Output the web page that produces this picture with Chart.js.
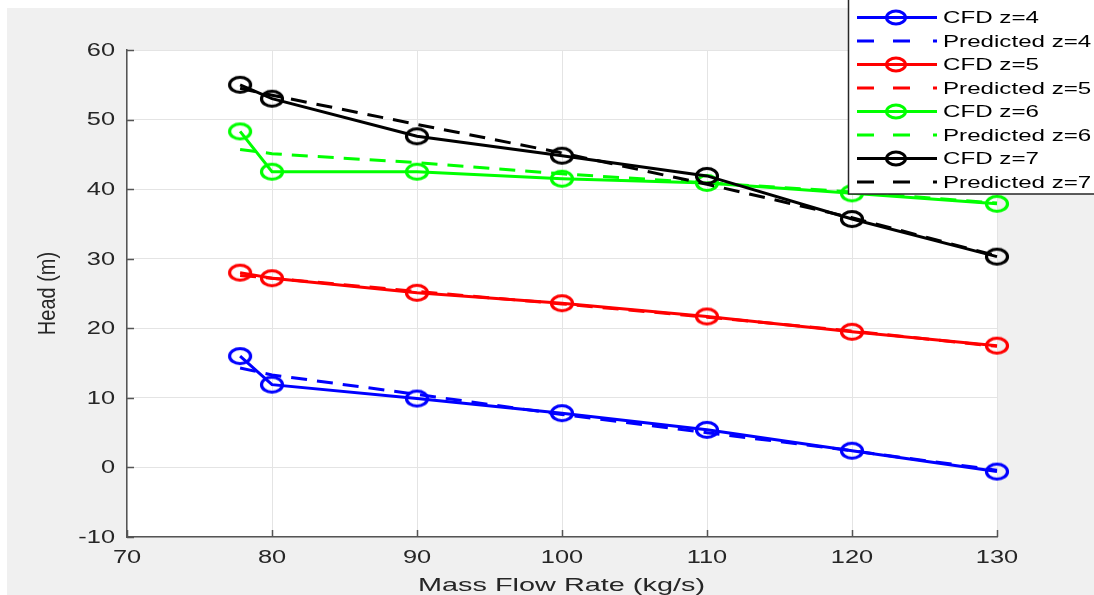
<!DOCTYPE html>
<html>
<head>
<meta charset="utf-8">
<script src="https://cdn.jsdelivr.net/npm/chart.js@4.4.0/dist/chart.umd.min.js"></script>
<style>
  html, body { margin: 0; padding: 0; background: #ffffff; }
  #wrap { position: absolute; left: 0; top: 0; width: 1094px; height: 595px; }
</style>
</head>
<body>
<div id="wrap"><canvas id="c" width="1094" height="595"></canvas></div>
<script>
// ---- data ----
const massFlow = [77.8, 80, 90, 100, 110, 120, 130];
const cfdZ4  = [16.0, 11.9, 9.9, 7.8, 5.4, 2.4, -0.6];
const predZ4 = [14.3, 13.3, 10.5, 7.6, 5.0, 2.4, -0.4];
const cfdZ5  = [28.0, 27.2, 25.1, 23.6, 21.7, 19.5, 17.5];
const predZ5 = [27.6, 27.2, 25.3, 23.5, 21.6, 19.6, 17.4];
const cfdZ6  = [48.3, 42.5, 42.5, 41.5, 40.9, 39.4, 37.9];
const predZ6 = [45.7, 45.1, 43.8, 42.2, 40.9, 39.6, 38.0];
const cfdZ7  = [55.0, 53.0, 47.6, 44.8, 41.9, 35.7, 30.3];
const predZ7 = [54.5, 53.5, 49.3, 45.2, 40.7, 35.9, 30.4];
const seriesLabels = ['CFD z=4', 'Predicted z=4', 'CFD z=5', 'Predicted z=5',
                      'CFD z=6', 'Predicted z=6', 'CFD z=7', 'Predicted z=7'];
const xTicks = [70, 80, 90, 100, 110, 120, 130];
const yTicks = [-10, 0, 10, 20, 30, 40, 50, 60];
const xTitle = 'Mass Flow Rate (kg/s)';
const yTitle = 'Head (m)';

const seriesValues = [cfdZ4, predZ4, cfdZ5, predZ5, cfdZ6, predZ6, cfdZ7, predZ7];
const seriesColors = ['#0000ff', '#0000ff', '#ff0000', '#ff0000', '#00ff00', '#00ff00', '#000000', '#000000'];

const FONT = '"Liberation Sans", Arial, Helvetica, sans-serif';

// elliptical "o" marker (the reference figure is stretched horizontally)
function makeMarker(color) {
  const c = document.createElement('canvas');
  c.width = 28; c.height = 22;
  const g = c.getContext('2d');
  g.strokeStyle = color;
  g.lineWidth = 3.2;
  g.beginPath();
  g.ellipse(14, 11, 10.5, 7.5, 0, 0, Math.PI * 2);
  g.stroke();
  return c;
}

const datasets = seriesValues.map((vals, i) => {
  const isCfd = i % 2 === 0;
  return {
    label: seriesLabels[i],
    data: massFlow.map((x, k) => ({ x: x, y: vals[k] })),
    showLine: true,
    borderColor: seriesColors[i],
    backgroundColor: 'transparent',
    borderWidth: 3,
    borderDash: isCfd ? [] : [16, 10],
    pointStyle: isCfd ? makeMarker(seriesColors[i]) : 'circle',
    pointRadius: isCfd ? 10 : 0,
    pointHoverRadius: isCfd ? 10 : 0,
    tension: 0,
    clip: false,
    order: 10 - i
  };
});

function stretchedText(ctx, text, x, y, sx, align, baseline) {
  ctx.save();
  ctx.translate(x, y);
  ctx.scale(sx, 1);
  ctx.textAlign = align;
  ctx.textBaseline = baseline;
  ctx.fillText(text, 0, 0);
  ctx.restore();
}

const bgPlugin = {
  id: 'bg',
  beforeDraw(chart) {
    const ctx = chart.ctx, a = chart.chartArea;
    ctx.save();
    ctx.fillStyle = '#ffffff';
    ctx.fillRect(0, 0, chart.width, chart.height);
    ctx.fillStyle = '#f0f0f0';
    ctx.fillRect(7, 8, chart.width - 7, chart.height - 8);
    ctx.fillStyle = '#ffffff';
    ctx.fillRect(a.left, a.top, a.right - a.left, a.bottom - a.top);
    ctx.restore();
  },
  beforeDatasetsDraw(chart) {
    const ctx = chart.ctx, a = chart.chartArea;
    const xs = chart.scales.x, ys = chart.scales.y;
    ctx.save();
    // inward tick marks
    ctx.strokeStyle = '#555555';
    ctx.lineWidth = 1.5;
    ctx.beginPath();
    xTicks.forEach(v => {
      const px = Math.round(xs.getPixelForValue(v)) + 0.5;
      ctx.moveTo(px, a.bottom);
      ctx.lineTo(px, a.bottom - 7);
    });
    yTicks.forEach(v => {
      const py = Math.round(ys.getPixelForValue(v)) + 0.5;
      ctx.moveTo(a.left, py);
      ctx.lineTo(a.left + 7, py);
    });
    ctx.stroke();
    // tick labels
    ctx.fillStyle = '#262626';
    ctx.font = '17.5px ' + FONT;
    yTicks.forEach(v => {
      stretchedText(ctx, String(v), 115, ys.getPixelForValue(v) + 1, 1.45, 'right', 'middle');
    });
    xTicks.forEach(v => {
      stretchedText(ctx, String(v), xs.getPixelForValue(v), 558, 1.45, 'center', 'middle');
    });
    // axis titles
    ctx.font = '18.5px ' + FONT;
    stretchedText(ctx, xTitle, (a.left + a.right) / 2 - 0.5, 591, 1.56, 'center', 'alphabetic');
    ctx.save();
    ctx.translate(55, 293.5);
    ctx.rotate(-Math.PI / 2);
    ctx.scale(1, 1.15);
    ctx.font = '20px ' + FONT;
    ctx.textAlign = 'center';
    ctx.textBaseline = 'alphabetic';
    ctx.fillText(yTitle, 0, 0);
    ctx.restore();
    ctx.restore();
  },
  afterDraw(chart) {
    const ctx = chart.ctx;
    ctx.save();
    // legend box
    const bx = 848.5, by = -5, bw = 260, bh = 199;
    ctx.fillStyle = '#ffffff';
    ctx.fillRect(bx, by, bw, bh);
    ctx.strokeStyle = '#262626';
    ctx.lineWidth = 1.5;
    ctx.strokeRect(bx, by, bw, bh);
    const rowY0 = 17.5, rowStep = 23.5;
    ctx.font = '17px ' + FONT;
    chart.data.datasets.forEach((ds, i) => {
      const y = rowY0 + i * rowStep;
      const isCfd = i % 2 === 0;
      ctx.strokeStyle = ds.borderColor;
      ctx.lineWidth = 3;
      ctx.setLineDash([]);
      if (isCfd) {
        ctx.beginPath();
        ctx.moveTo(857, y); ctx.lineTo(937, y);
        ctx.stroke();
        ctx.beginPath();
        ctx.ellipse(896, y, 9.5, 6.5, 0, 0, Math.PI * 2);
        ctx.stroke();
      } else {
        ctx.beginPath();
        ctx.moveTo(857, y); ctx.lineTo(874, y);
        ctx.moveTo(893, y); ctx.lineTo(910, y);
        ctx.moveTo(933, y); ctx.lineTo(937, y);
        ctx.stroke();
      }
      ctx.fillStyle = '#000000';
      stretchedText(ctx, ds.label, 943, y + 1, 1.42, 'left', 'middle');
    });
    ctx.restore();
  }
};

new Chart(document.getElementById('c'), {
  type: 'scatter',
  data: { datasets: datasets },
  plugins: [bgPlugin],
  options: {
    responsive: false,
    animation: false,
    devicePixelRatio: 1,
    layout: { padding: { top: 50, right: 97, left: 0, bottom: 0 } },
    plugins: { legend: { display: false }, tooltip: { enabled: false } },
    scales: {
      x: {
        type: 'linear', min: 70, max: 130,
        afterFit(scale) { scale.height = 58; },
        afterBuildTicks(scale) { scale.ticks = xTicks.map(v => ({ value: v })); },
        grid: { color: '#e4e4e4', lineWidth: 1, drawTicks: false },
        border: { color: '#555555', width: 1.5 },
        ticks: { display: false },
        title: { display: false }
      },
      y: {
        type: 'linear', min: -10, max: 60,
        afterFit(scale) { scale.width = 127; },
        afterBuildTicks(scale) { scale.ticks = yTicks.map(v => ({ value: v })); },
        grid: { color: '#e4e4e4', lineWidth: 1, drawTicks: false },
        border: { color: '#555555', width: 1.5 },
        ticks: { display: false },
        title: { display: false }
      }
    }
  }
});
</script>
</body>
</html>
